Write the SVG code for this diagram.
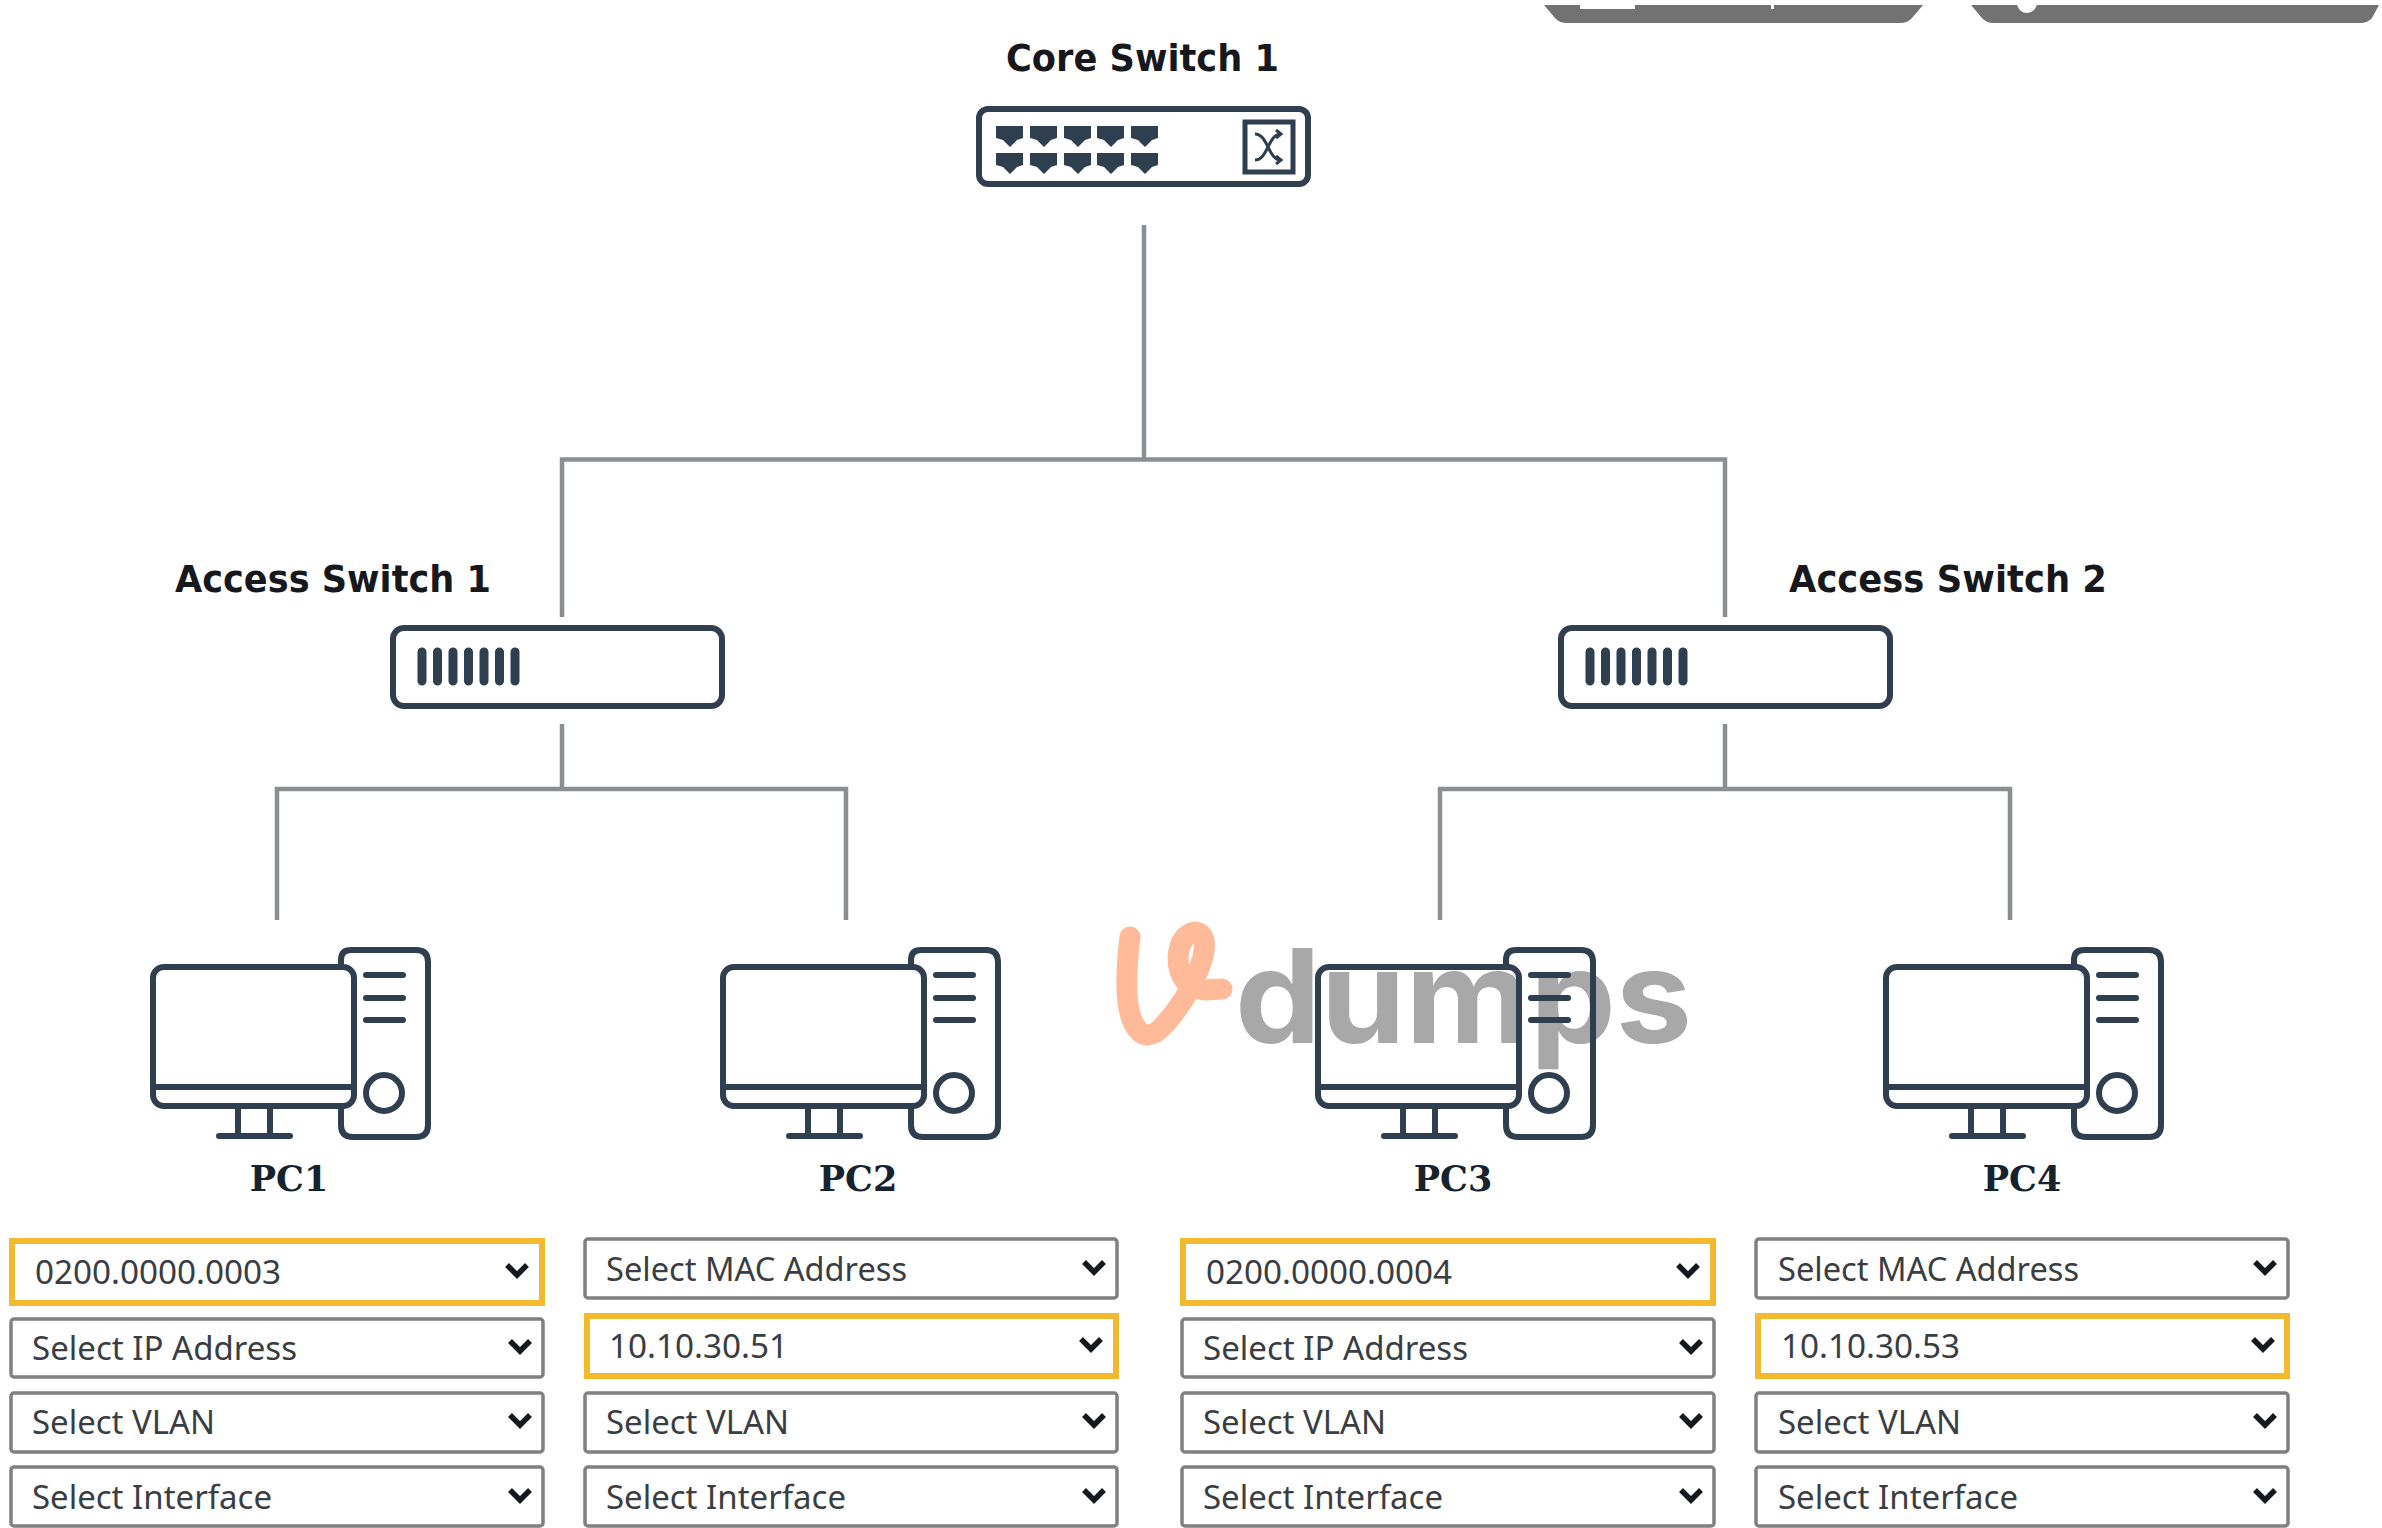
<svg xmlns="http://www.w3.org/2000/svg" xmlns:xlink="http://www.w3.org/1999/xlink" width="2382" height="1528" viewBox="0 0 2382 1528">
<style>
.ink{fill:none;stroke:#2f3f50;stroke-width:6;stroke-linecap:round;stroke-linejoin:round}
.fillink{fill:#2f3f50}
.link{fill:none;stroke:#8c8f92;stroke-width:4.5}
.title{font-family:"DejaVu Sans",sans-serif;font-weight:700;font-size:38px;fill:#16181c}
.pc{font-family:"DejaVu Serif",serif;font-weight:700;font-size:35px;fill:#16222e;text-anchor:middle}
.dd{fill:#fff;stroke:#808080;stroke-width:3.5}
.sel{fill:#fff;stroke:#f5b92e;stroke-width:6}
.t{font-family:"Noto Sans",sans-serif;font-size:32px;fill:#3a3d42}
.chev{fill:none;stroke:#15181c;stroke-width:5.5}
.tab{fill:#727272}
</style>
<defs>
<g id="pcicon">
<path class="ink" d="M341 966V960Q341 950 351 950H416Q428 950 428 962V1125Q428 1137 416 1137H353Q341 1137 341 1125V1108"/>
<rect class="ink" x="153" y="967" width="201" height="139" rx="11"/>
<path class="ink" d="M153 1087H354M238 1106V1136M270 1106V1136M219 1136H290M366 975H403M366 998H403M366 1020H403"/>
<circle class="ink" cx="384" cy="1093" r="18"/>
</g>
<g id="port"><path class="fillink" d="M0 0H27V12L21 14L14 21L7 14L0 12Z"/></g>
<path id="chevron" class="chev" d="M-10 -5L0 5L10 -5"/>
<g id="accessicon">
<rect class="ink" x="0" y="0" width="329" height="78" rx="11"/>
<path d="M29 24V53M44.500 24V53M60 24V53M75.500 24V53M91 24V53M106.500 24V53M122 24V53" fill="none" stroke="#2f3f50" stroke-width="9" stroke-linecap="round"/>
</g>
</defs>
<rect width="2382" height="1528" fill="#fff"/>

<g id="window-tabs">
<path class="tab" d="M1544 5H1923L1912 18Q1908 23 1900 23H1567Q1559 23 1555 18Z"/>
<path class="tab" d="M1971 5H2379L2372 18Q2368 23 2360 23H1994Q1986 23 1982 18Z"/>
<rect x="1580" y="5" width="55" height="4" fill="#fff"/>
<rect x="1771" y="5" width="3" height="4" fill="#fff"/>
<path d="M2017 5H2037Q2034 13 2027 13Q2020 13 2017 5Z" fill="#fff"/>
</g>

<g id="connectors">
<path class="link" d="M1144 225V459.500M562 617V459.500H1725V617"/>
<path class="link" d="M562 724V789M277 920V789H846V920"/>
<path class="link" d="M1725 724V789M1440 920V789H2010V920"/>
</g>

<g id="watermark">
<path d="M1130 937Q1122 1002 1134 1024Q1146 1046 1165 1024Q1192 994 1203 957Q1208 934 1196 932Q1180 934 1178 957Q1178 987 1205 990L1222 989" fill="none" stroke="#ffbb99" stroke-width="21" stroke-linecap="round" stroke-linejoin="round"/>
<text x="1235" y="1043" font-family="Inter,sans-serif" font-weight="700" font-size="130" fill="#a8a8a8" textLength="457" lengthAdjust="spacingAndGlyphs">dumps</text>
</g>

<g id="core-switch-1">
<text class="title" x="1006" y="71" textLength="273" lengthAdjust="spacingAndGlyphs">Core Switch 1</text>
<rect class="ink" x="979" y="109" width="329" height="75" rx="9"/>
<use xlink:href="#port" href="#port" x="996" y="126"/><use xlink:href="#port" href="#port" x="1030" y="126"/><use xlink:href="#port" href="#port" x="1064" y="126"/><use xlink:href="#port" href="#port" x="1097" y="126"/><use xlink:href="#port" href="#port" x="1131" y="126"/>
<use xlink:href="#port" href="#port" x="996" y="153"/><use xlink:href="#port" href="#port" x="1030" y="153"/><use xlink:href="#port" href="#port" x="1064" y="153"/><use xlink:href="#port" href="#port" x="1097" y="153"/><use xlink:href="#port" href="#port" x="1131" y="153"/>
<rect x="1245" y="122" width="48" height="50" fill="none" stroke="#2f3f50" stroke-width="5"/>
<path d="M1255 134C1268 134 1268 160 1281 160M1255 160C1268 160 1268 134 1281 134M1276 130L1281 134L1276 138M1276 156L1281 160L1276 164" fill="none" stroke="#2f3f50" stroke-width="3"/>
</g>

<g id="access-switch-1">
<text class="title" x="175" y="592" textLength="316" lengthAdjust="spacingAndGlyphs">Access Switch 1</text>
<use xlink:href="#accessicon" href="#accessicon" x="393" y="628"/>
</g>
<g id="access-switch-2">
<text class="title" x="1789" y="592" textLength="318" lengthAdjust="spacingAndGlyphs">Access Switch 2</text>
<use xlink:href="#accessicon" href="#accessicon" x="1561" y="628"/>
</g>

<g id="pc1">
<use xlink:href="#pcicon" href="#pcicon"/>
<text class="pc" x="289" y="1191">PC1</text>
<rect class="sel" x="12" y="1241" width="530" height="62"/>
<text class="t" x="35" y="1284" textLength="246" lengthAdjust="spacingAndGlyphs">0200.0000.0003</text>
<use xlink:href="#chevron" href="#chevron" x="517" y="1270"/>
<rect class="dd" x="11" y="1319" width="532" height="58" rx="3"/>
<text class="t" x="32" y="1360" textLength="265" lengthAdjust="spacingAndGlyphs">Select IP Address</text>
<use xlink:href="#chevron" href="#chevron" x="520" y="1346"/>
<rect class="dd" x="11" y="1393" width="532" height="59" rx="3"/>
<text class="t" x="32" y="1434" textLength="183" lengthAdjust="spacingAndGlyphs">Select VLAN</text>
<use xlink:href="#chevron" href="#chevron" x="520" y="1420"/>
<rect class="dd" x="11" y="1467" width="532" height="59" rx="3"/>
<text class="t" x="32" y="1509" textLength="240" lengthAdjust="spacingAndGlyphs">Select Interface</text>
<use xlink:href="#chevron" href="#chevron" x="520" y="1495"/>
</g>

<g id="pc2">
<use xlink:href="#pcicon" href="#pcicon" x="570"/>
<text class="pc" x="858" y="1191">PC2</text>
<rect class="dd" x="585" y="1239" width="532" height="59" rx="3"/>
<text class="t" x="606" y="1281" textLength="301" lengthAdjust="spacingAndGlyphs">Select MAC Address</text>
<use xlink:href="#chevron" href="#chevron" x="1094" y="1267"/>
<rect class="sel" x="587" y="1316" width="529" height="60"/>
<text class="t" x="609" y="1358" textLength="179" lengthAdjust="spacingAndGlyphs">10.10.30.51</text>
<use xlink:href="#chevron" href="#chevron" x="1091" y="1344"/>
<rect class="dd" x="585" y="1393" width="532" height="59" rx="3"/>
<text class="t" x="606" y="1434" textLength="183" lengthAdjust="spacingAndGlyphs">Select VLAN</text>
<use xlink:href="#chevron" href="#chevron" x="1094" y="1420"/>
<rect class="dd" x="585" y="1467" width="532" height="59" rx="3"/>
<text class="t" x="606" y="1509" textLength="240" lengthAdjust="spacingAndGlyphs">Select Interface</text>
<use xlink:href="#chevron" href="#chevron" x="1094" y="1495"/>
</g>

<g id="pc3">
<use xlink:href="#pcicon" href="#pcicon" x="1165"/>
<text class="pc" x="1453" y="1191">PC3</text>
<rect class="sel" x="1183" y="1241" width="530" height="62"/>
<text class="t" x="1206" y="1284" textLength="246" lengthAdjust="spacingAndGlyphs">0200.0000.0004</text>
<use xlink:href="#chevron" href="#chevron" x="1688" y="1270"/>
<rect class="dd" x="1182" y="1319" width="532" height="58" rx="3"/>
<text class="t" x="1203" y="1360" textLength="265" lengthAdjust="spacingAndGlyphs">Select IP Address</text>
<use xlink:href="#chevron" href="#chevron" x="1691" y="1346"/>
<rect class="dd" x="1182" y="1393" width="532" height="59" rx="3"/>
<text class="t" x="1203" y="1434" textLength="183" lengthAdjust="spacingAndGlyphs">Select VLAN</text>
<use xlink:href="#chevron" href="#chevron" x="1691" y="1420"/>
<rect class="dd" x="1182" y="1467" width="532" height="59" rx="3"/>
<text class="t" x="1203" y="1509" textLength="240" lengthAdjust="spacingAndGlyphs">Select Interface</text>
<use xlink:href="#chevron" href="#chevron" x="1691" y="1495"/>
</g>

<g id="pc4">
<use xlink:href="#pcicon" href="#pcicon" x="1733"/>
<text class="pc" x="2022" y="1191">PC4</text>
<rect class="dd" x="1756" y="1239" width="532" height="59" rx="3"/>
<text class="t" x="1778" y="1281" textLength="301" lengthAdjust="spacingAndGlyphs">Select MAC Address</text>
<use xlink:href="#chevron" href="#chevron" x="2265" y="1267"/>
<rect class="sel" x="1758" y="1316" width="529" height="60"/>
<text class="t" x="1781" y="1358" textLength="179" lengthAdjust="spacingAndGlyphs">10.10.30.53</text>
<use xlink:href="#chevron" href="#chevron" x="2263" y="1344"/>
<rect class="dd" x="1756" y="1393" width="532" height="59" rx="3"/>
<text class="t" x="1778" y="1434" textLength="183" lengthAdjust="spacingAndGlyphs">Select VLAN</text>
<use xlink:href="#chevron" href="#chevron" x="2265" y="1420"/>
<rect class="dd" x="1756" y="1467" width="532" height="59" rx="3"/>
<text class="t" x="1778" y="1509" textLength="240" lengthAdjust="spacingAndGlyphs">Select Interface</text>
<use xlink:href="#chevron" href="#chevron" x="2265" y="1495"/>
</g>
</svg>
